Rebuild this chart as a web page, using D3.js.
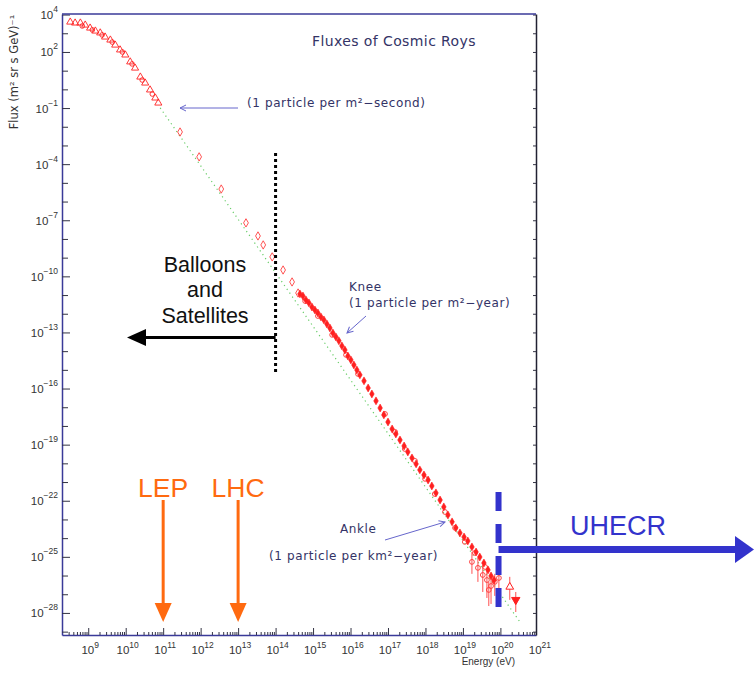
<!DOCTYPE html>
<html>
<head>
<meta charset="utf-8">
<title>Fluxes of Cosmic Rays</title>
<script src="https://cdn.jsdelivr.net/npm/d3@7"></script>
<style>
  body { margin: 0; background: #fff; }
  svg { display: block; }
  .tick-label { font-family: "Liberation Sans", Arial, sans-serif; font-size: 11.5px; fill: #333; }
  .note { font-family: "DejaVu Sans", Verdana, sans-serif; font-size: 12px; letter-spacing: 0.6px; fill: #333366; }
  .big { font-family: "Liberation Sans", Arial, sans-serif; }
</style>
</head>
<body>
<script>
// all values are log10: energy in eV, flux in (m^2 sr s GeV)^-1

// low energy, open triangles
const triE = [8.52, 8.65, 8.79, 8.92, 9.05, 9.19, 9.32, 9.45, 9.59, 9.72, 9.85, 9.99, 10.12, 10.25, 10.39, 10.52, 10.65, 10.79, 10.87];
const triF = [3.60, 3.55, 3.55, 3.44, 3.28, 3.12, 3.02, 2.80, 2.64, 2.37, 2.11, 1.84, 1.47, 1.14, 0.66, 0.34, -0.03, -0.46, -0.73];

// low energy, open circles
const circE = [8.84, 9.11, 9.37, 9.64, 9.91, 10.17, 10.44, 10.71];
const circF = [3.39, 3.18, 2.91, 2.53, 2.00, 1.36, 0.50, -0.25];

// direct measurements, open diamonds
const diaE = [11.45, 11.96, 12.55, 13.21, 13.53, 13.67, 13.91, 14.20, 14.44, 14.60];
const diaF = [-2.28, -3.61, -5.33, -7.14, -7.84, -8.32, -8.96, -9.66, -10.30, -10.89];

// air shower data, filled points
const denseE = [14.65, 14.73, 14.81, 14.89, 14.97, 15.05, 15.13, 15.21, 15.29, 15.37, 15.45, 15.53, 15.61, 15.69, 15.77,
  15.85, 15.93, 16.01, 16.09, 16.17, 16.25, 16.36, 16.47, 16.57, 16.68, 16.79, 16.89, 17.00, 17.11, 17.21, 17.32,
  17.43, 17.53, 17.64, 17.75, 17.85, 17.96, 18.07, 18.17, 18.28, 18.39, 18.49, 18.60, 18.71, 18.81, 18.92, 19.03,
  19.13, 19.24, 19.35, 19.45, 19.56, 19.67, 19.75, 19.83];
const denseF = [-10.94, -11.05, -11.26, -11.42, -11.64, -11.80, -11.96, -12.17, -12.33, -12.55, -12.76, -13.03, -13.24,
  -13.45, -13.72, -13.94, -14.26, -14.47, -14.74, -15.01, -15.27, -15.59, -15.97, -16.29, -16.66, -17.04, -17.41,
  -17.79, -18.16, -18.43, -18.75, -19.07, -19.39, -19.71, -20.03, -20.35, -20.62, -20.89, -21.21, -21.58, -21.96,
  -22.33, -22.76, -23.13, -23.45, -23.72, -23.94, -24.15, -24.47, -24.74, -25.01, -25.33, -25.70, -26.02, -26.24];

// air shower data, open circles
const openE = [14.79, 15.13, 15.51, 15.88, 16.20, 16.92, 17.19, 17.45, 17.72, 17.99, 18.25, 18.52, 18.79, 19.05, 19.32, 19.59];
const openF = [-11.32, -12.12, -13.13, -14.20, -15.22, -17.36, -18.32, -19.23, -19.87, -20.83, -21.64, -22.60, -23.45,
  -24.20, -24.79, -25.54];

// highest energies with error bars
const errE = [19.24, 19.40, 19.53, 19.64, 19.75, 19.85, 19.96, 19.69];
const errF = [-25.27, -25.59, -25.97, -26.24, -26.56, -26.34, -26.13, -26.77];
const errHi = [-24.74, -25.06, -25.43, -25.70, -26.02, -25.91, -25.81, -26.34];
const errLo = [-25.91, -26.34, -26.88, -27.20, -27.52, -27.09, -26.77, -27.63];

const lastOpen = {e: 20.25, f: -26.61, hi: -26.07, lo: -27.30};
const lastFilled = {e: 20.41, f: -27.30, hi: -26.88, lo: -27.95};

// dotted power law guide
const guideE = [10.92, 20.52];
const guideF = [-0.99, -28.48];

// axes
const xLabelExp = [9, 10, 11, 12, 13, 14, 15, 16, 17, 18, 19, 20, 21];
const yLabelExp = [4, 2, -1, -4, -7, -10, -13, -16, -19, -22, -25, -28];
const xDomainExp = [8.3, 20.95];
const yDomainExp = [4.03, -29.18];

// energies of the markers
const lepE = 11, lhcE = 13, balloonE = 14, uhecrE = 19.95;

const P = v => Math.pow(10, v);

class CosmicRayChart {
    constructor(parent) {
        this.margin = {top: 14, right: 218, bottom: 38, left: 62};
        this.width = 754 - this.margin.left - this.margin.right;
        this.height = 673 - this.margin.top - this.margin.bottom;

        this.xScale = d3.scaleLog().domain(xDomainExp.map(P)).range([0, this.width]);
        this.yScale = d3.scaleLog().domain(yDomainExp.map(P)).range([0, this.height]);

        this.svg = parent.append("svg").attr("width", 754).attr("height", 673);
        this.defs = this.svg.append("defs");
        this.defs.append("marker").attr("id", "thin")
            .attr("viewBox", "0 0 8 8").attr("refX", 7).attr("refY", 4)
            .attr("markerWidth", 8).attr("markerHeight", 8).attr("markerUnits", "userSpaceOnUse")
            .attr("orient", "auto")
            .append("path").attr("d", "M1,1 L7,4 L1,7").attr("fill", "none")
            .attr("stroke", "#6666cc").attr("stroke-width", 1);

        this.g = this.svg.append("g")
            .attr("transform", "translate(" + this.margin.left + "," + this.margin.top + ")");

        this.drawAxes();
        this.drawData();
        this.drawNotes();
    }

    drawAxes() {
        let x = this.xScale, y = this.yScale;

        let minor = [];
        for (let n = 8; n <= 20; n++) {
            for (let k = 2; k <= 9; k++) {
                let v = k * P(n);
                if (v > x.domain()[0] && v < x.domain()[1]) minor.push(v);
            }
        }
        let major = d3.range(9, 21).map(P);
        let decades = d3.range(4, -30, -1).map(P);

        let xMinor = this.g.append("g").attr("class", "axis")
            .attr("transform", "translate(0," + this.height + ")")
            .call(d3.axisBottom(x).tickValues(minor).tickSize(-3).tickSizeOuter(0).tickFormat(""));
        let xMajor = this.g.append("g").attr("class", "axis")
            .attr("transform", "translate(0," + this.height + ")")
            .call(d3.axisBottom(x).tickValues(major).tickSize(-7).tickSizeOuter(0).tickFormat(""));
        let yLeft = this.g.append("g").attr("class", "axis")
            .call(d3.axisLeft(y).tickValues(decades).tickSize(-6).tickSizeOuter(0).tickFormat(""));
        let yRight = this.g.append("g").attr("class", "axis")
            .attr("transform", "translate(" + this.width + ",0)")
            .call(d3.axisRight(y).tickValues(decades).tickSize(-3).tickSizeOuter(0).tickFormat(""));

        this.g.selectAll(".axis line").attr("stroke", "#333344");
        xMinor.select(".domain").attr("stroke", "#3a3a99").attr("stroke-width", 1.5);
        xMajor.select(".domain").remove();
        yLeft.select(".domain").attr("stroke", "#3a3a99").attr("stroke-width", 1.5);
        yRight.select(".domain").attr("stroke", "#222233").attr("stroke-width", 1.5);

        // labelled decades get longer ticks
        yLeft.selectAll(".tick line")
            .attr("x2", d => yLabelExp.includes(Math.round(Math.log10(d))) ? 8 : 6);

        this.g.append("line")
            .attr("x1", 0).attr("x2", this.width).attr("y1", 0).attr("y2", 0)
            .attr("stroke", "#3a3a99").attr("stroke-width", 1.5);

        let expText = d => d < 0 ? "\u2212" + (-d) : String(d);

        this.g.selectAll(".xlab").data(xLabelExp).enter().append("text")
            .attr("class", "xlab tick-label")
            .attr("x", d => x(P(d)) + 2)
            .attr("y", this.height + 19)
            .attr("text-anchor", "middle")
            .each(function(d) {
                let t = d3.select(this);
                t.append("tspan").text("10");
                t.append("tspan").attr("dy", -6).style("font-size", "8.5px").text(expText(d));
            });

        this.g.selectAll(".ylab").data(yLabelExp).enter().append("text")
            .attr("class", "ylab tick-label")
            .attr("x", -4)
            .attr("y", d => y(P(d)) + 4.5)
            .attr("text-anchor", "end")
            .each(function(d) {
                let t = d3.select(this);
                t.append("tspan").text("10");
                t.append("tspan").attr("dy", -7).style("font-size", "8.5px").text(expText(d));
            });

        this.g.append("text")
            .attr("class", "tick-label")
            .attr("text-anchor", "middle")
            .attr("transform", "translate(-44,58) rotate(-90)")
            .style("font-family", "'DejaVu Sans', Verdana, sans-serif")
            .style("font-size", "11.5px")
            .text("Flux (m\u00b2 sr s GeV)\u207b\u00b9");

        this.g.append("text")
            .attr("class", "tick-label")
            .attr("text-anchor", "end")
            .attr("x", 453).attr("y", this.height + 30)
            .style("font-size", "10px")
            .text("Energy (eV)");
    }

    drawData() {
        let x = this.xScale, y = this.yScale;
        let pts = (es, fs) => es.map((e, i) => ({e: e, f: fs[i]}));
        let tr = d => "translate(" + x(P(d.e)) + "," + y(P(d.f)) + ")";
        let red = "#ff2020";

        // power law guide
        this.g.append("line")
            .attr("x1", x(P(guideE[0]))).attr("y1", y(P(guideF[0])))
            .attr("x2", x(P(guideE[1]))).attr("y2", y(P(guideF[1])))
            .attr("stroke", "#66cc66").attr("stroke-width", 1.2)
            .attr("stroke-dasharray", "1.2,3.5");

        let data = this.g.append("g").attr("class", "data");

        data.selectAll(".tri").data(pts(triE, triF)).enter().append("path")
            .attr("class", "tri")
            .attr("d", d3.symbol(d3.symbolTriangle, 22))
            .attr("transform", tr)
            .attr("fill", "none").attr("stroke", red).attr("stroke-width", 0.9);

        data.selectAll(".circ").data(pts(circE, circF)).enter().append("circle")
            .attr("class", "circ")
            .attr("cx", d => x(P(d.e))).attr("cy", d => y(P(d.f))).attr("r", 2.3)
            .attr("fill", "none").attr("stroke", red).attr("stroke-width", 0.9);

        data.selectAll(".dia").data(pts(diaE, diaF)).enter().append("path")
            .attr("class", "dia")
            .attr("d", d3.symbol(d3.symbolDiamond, 20))
            .attr("transform", tr)
            .attr("fill", "none").attr("stroke", "#ff4040").attr("stroke-width", 0.9);

        // error bars
        let errs = errE.map((e, i) => ({e: e, f: errF[i], hi: errHi[i], lo: errLo[i]}));
        errs.push(lastOpen, lastFilled);
        data.selectAll(".err").data(errs).enter().append("line")
            .attr("class", "err")
            .attr("x1", d => x(P(d.e))).attr("x2", d => x(P(d.e)))
            .attr("y1", d => y(P(d.hi))).attr("y2", d => y(P(d.lo)))
            .attr("stroke", "#ff5050").attr("stroke-width", 1);

        data.selectAll(".open").data(pts(openE, openF).concat(errs.slice(0, 8))).enter().append("circle")
            .attr("class", "open")
            .attr("cx", d => x(P(d.e))).attr("cy", d => y(P(d.f))).attr("r", 2.4)
            .attr("fill", "none").attr("stroke", "#ff4040").attr("stroke-width", 1);

        data.selectAll(".dense").data(pts(denseE, denseF)).enter().append("path")
            .attr("class", "dense")
            .attr("d", d3.symbol(d3.symbolDiamond, 18))
            .attr("transform", tr)
            .attr("fill", red).attr("stroke", red).attr("stroke-width", 0.6);

        data.append("path")
            .attr("d", d3.symbol(d3.symbolTriangle, 26))
            .attr("transform", tr(lastOpen))
            .attr("fill", "#fff").attr("stroke", red).attr("stroke-width", 1);

        data.append("path")
            .attr("d", d3.symbol(d3.symbolTriangle, 30))
            .attr("transform", tr(lastFilled) + " rotate(180)")
            .attr("fill", red).attr("stroke", red);
    }

    drawNotes() {
        let g = this.g;
        let x = this.xScale;
        let blue = "#6666cc";

        g.append("text").attr("class", "note")
            .attr("x", 250).attr("y", 32)
            .style("font-size", "14px").style("letter-spacing", "0.4px")
            .text("Fluxes of Cosmic Roys");

        // 1 particle per m2 second
        g.append("text").attr("class", "note").attr("x", 185).attr("y", 93)
            .text("(1 particle per m\u00b2\u2212second)");
        g.append("line").attr("x1", 176).attr("y1", 94).attr("x2", 118).attr("y2", 94)
            .attr("stroke", blue).attr("stroke-width", 1).attr("marker-end", "url(#thin)");

        // knee
        g.append("text").attr("class", "note").attr("x", 287).attr("y", 277).text("Knee");
        g.append("text").attr("class", "note").attr("x", 287).attr("y", 293)
            .text("(1 particle per m\u00b2\u2212year)");
        g.append("line").attr("x1", 304).attr("y1", 302).attr("x2", 285).attr("y2", 319)
            .attr("stroke", blue).attr("stroke-width", 1).attr("marker-end", "url(#thin)");

        // ankle
        g.append("text").attr("class", "note").attr("x", 278).attr("y", 519).text("Ankle");
        g.append("text").attr("class", "note").attr("x", 376).attr("y", 546).attr("text-anchor", "end")
            .text("(1 particle per km\u00b2\u2212year)");
        g.append("line").attr("x1", 323).attr("y1", 526).attr("x2", 383).attr("y2", 508)
            .attr("stroke", blue).attr("stroke-width", 1).attr("marker-end", "url(#thin)");

        // balloons and satellites
        let bx = x(P(balloonE));
        g.append("line").attr("x1", bx).attr("x2", bx).attr("y1", 139).attr("y2", 361)
            .attr("stroke", "#000").attr("stroke-width", 3).attr("stroke-dasharray", "3,3");
        g.append("line").attr("x1", bx).attr("x2", 78).attr("y1", 323.5).attr("y2", 323.5)
            .attr("stroke", "#000").attr("stroke-width", 3);
        g.append("path").attr("d", "M65,323.5 L84,315 L84,332 Z").attr("fill", "#000");
        [["Balloons", 258], ["and", 283], ["Satellites", 309]].forEach(function(l) {
            g.append("text").attr("class", "big").attr("x", 143).attr("y", l[1])
                .attr("text-anchor", "middle").style("font-size", "21.5px").attr("fill", "#111")
                .text(l[0]);
        });

        // accelerators
        let orange = "#ff6a10";
        [["LEP", lepE], ["LHC", lhcE]].forEach(function(a) {
            let ax = x(P(a[1]));
            g.append("text").attr("class", "big").attr("x", ax).attr("y", 483)
                .attr("text-anchor", "middle").style("font-size", "26.5px").attr("fill", orange)
                .text(a[0]);
            g.append("line").attr("x1", ax).attr("x2", ax).attr("y1", 486).attr("y2", 592)
                .attr("stroke", orange).attr("stroke-width", 3);
            g.append("path")
                .attr("d", "M" + (ax - 8.5) + ",589 L" + (ax + 8.5) + ",589 L" + ax + ",608 Z")
                .attr("fill", orange);
        });

        // UHECR
        let navy = "#3333cc";
        let ux = x(P(uhecrE));
        g.append("line").attr("x1", ux).attr("x2", ux).attr("y1", 478).attr("y2", 594)
            .attr("stroke", navy).attr("stroke-width", 6).attr("stroke-dasharray", "19,13");
        g.append("line").attr("x1", ux).attr("x2", 675).attr("y1", 535.5).attr("y2", 535.5)
            .attr("stroke", navy).attr("stroke-width", 7);
        g.append("path").attr("d", "M673,522 L692,535.5 L673,549 Z").attr("fill", navy);
        g.append("text").attr("class", "big").attr("x", 508).attr("y", 521)
            .style("font-size", "27px").attr("fill", navy).text("UHECR");
    }
}

let chart = new CosmicRayChart(d3.select("body"));
</script>
</body>
</html>
